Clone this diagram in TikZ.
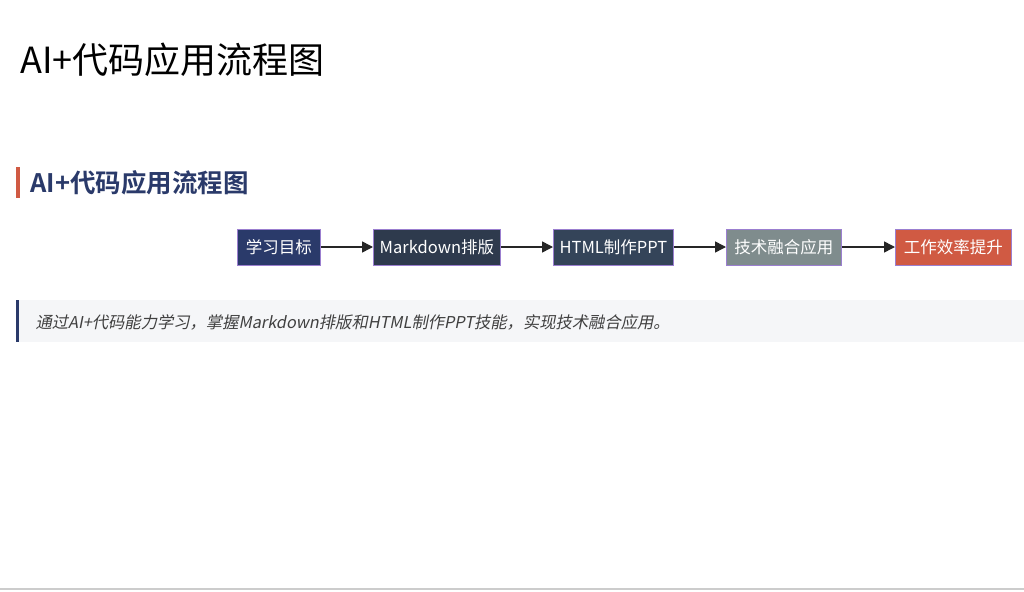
\documentclass[tikz,border=0pt]{standalone}
\usepackage{fontspec}
\setmainfont{Noto Sans CJK SC}
\newfontfamily\cjkbold{Noto Sans CJK SC Bold}
\newfontfamily\cjkit[FakeSlant=0.2]{Noto Sans CJK SC}
\usetikzlibrary{arrows.meta}
\definecolor{navy}{HTML}{2A3A6A}
\definecolor{slateA}{HTML}{2E3A4D}
\definecolor{slateB}{HTML}{344459}
\definecolor{greyC}{HTML}{7F8C8D}
\definecolor{redD}{HTML}{D05A43}
\definecolor{bord}{HTML}{9B7FD0}
\definecolor{notebg}{HTML}{F5F6F8}
\tikzset{
 flowbox/.style={draw=bord,line width=0.8pt,text=white,minimum height=36pt,inner xsep=0pt,font=\fontsize{16.5}{16.5}\selectfont,anchor=west},
 flowarrow/.style={-{Triangle[length=11pt,width=11pt]},line width=1.5pt,draw=black!85}
}
\begin{document}
\begin{tikzpicture}[x=1pt,y=-1pt]
\useasboundingbox (0,0) rectangle (1024,591);
\fill[white] (0,0) rectangle (1024,591);
\node[anchor=west,font=\fontsize{36}{36}\selectfont] (title) at (17,60) {AI+代码应用流程图};
\fill[redD] (16,167) rectangle (19.5,198);
\node[anchor=west,text=navy,font=\cjkbold\fontsize{25.5}{25.5}\selectfont] (head) at (27,183) {AI+代码应用流程图};
\node[flowbox,fill=navy,minimum width=83pt] (b1) at (237,247) {学习目标};
\node[flowbox,fill=slateA,minimum width=127pt] (b2) at (373,247) {Markdown排版};
\node[flowbox,fill=slateB,minimum width=120pt] (b3) at (553,247) {HTML制作PPT};
\node[flowbox,fill=greyC,minimum width=115pt] (b4) at (726,247) {技术融合应用};
\node[flowbox,fill=redD,minimum width=116pt] (b5) at (895,247) {工作效率提升};
\draw[flowarrow] (b1) -- (b2);
\draw[flowarrow] (b2) -- (b3);
\draw[flowarrow] (b3) -- (b4);
\draw[flowarrow] (b4) -- (b5);
\fill[notebg] (16,300) rectangle (1024,342);
\fill[navy] (16,300) rectangle (19,342);
\node[anchor=west,text=black!75,font=\cjkit\fontsize{16.3}{16.3}\selectfont] (note) at (32,322) {通过AI+代码能力学习，掌握Markdown排版和HTML制作PPT技能，实现技术融合应用。};
\draw[black!20,line width=1.5pt] (0,589) -- (1024,589);
\end{tikzpicture}
\end{document}
